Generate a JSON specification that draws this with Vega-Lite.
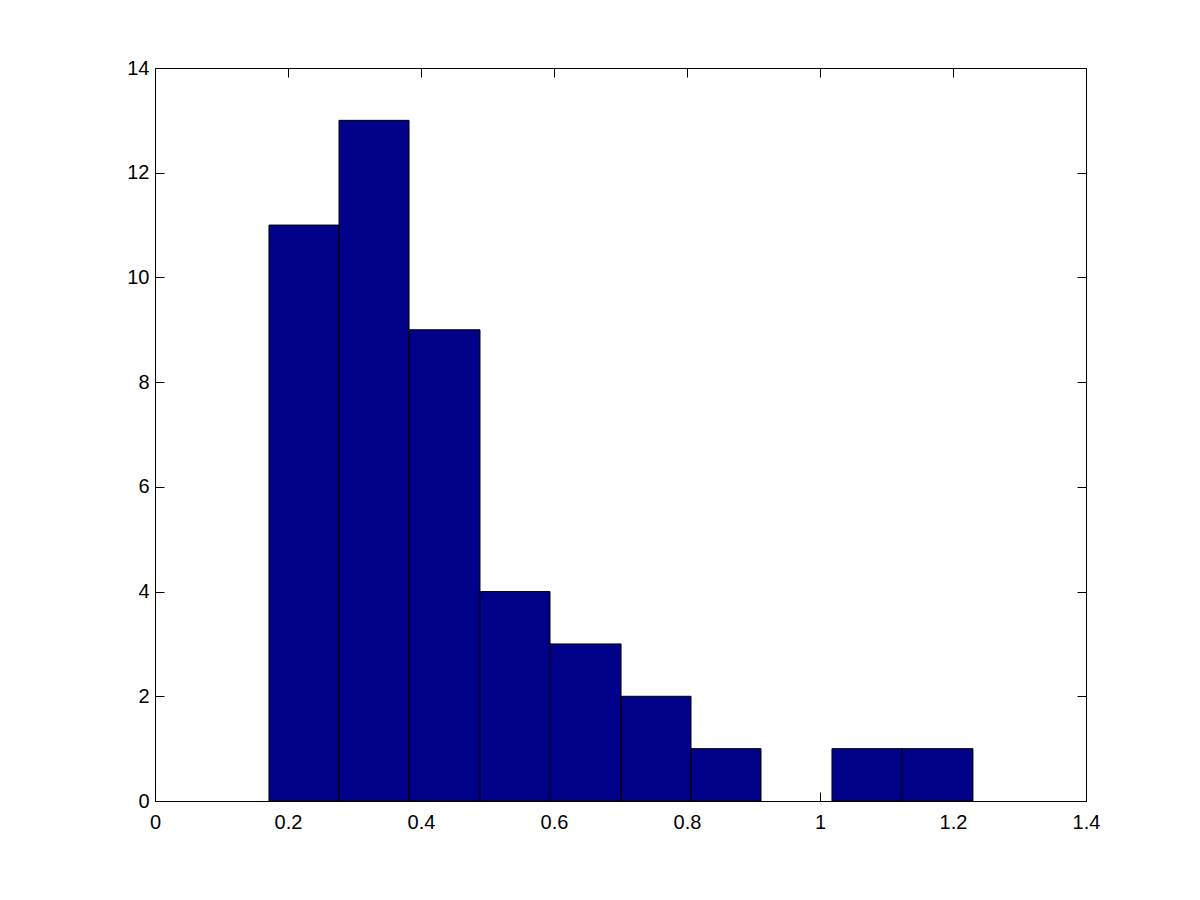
{
  "$schema": "https://vega.github.io/schema/vega-lite/v6.json",
  "width": 931,
  "height": 733,
  "autosize": {"type": "none"},
  "padding": {"left": 155, "top": 68, "right": 114, "bottom": 99},
  "background": "white",
  "config": {
    "view": {"stroke": "black", "strokeWidth": 1},
    "axis": {
      "grid": false,
      "domain": false,
      "tickColor": "black",
      "tickSize": -9,
      "tickWidth": 1,
      "labelFont": "Liberation Sans",
      "labelFontSize": 20,
      "labelColor": "black",
      "title": null
    }
  },
  "data": {
    "values": [
      {"start": 0.1714, "end": 0.2767, "count": 11},
      {"start": 0.2767, "end": 0.3820, "count": 13},
      {"start": 0.3820, "end": 0.4887, "count": 9},
      {"start": 0.4887, "end": 0.5940, "count": 4},
      {"start": 0.5940, "end": 0.7008, "count": 3},
      {"start": 0.7008, "end": 0.8060, "count": 2},
      {"start": 0.8060, "end": 0.9113, "count": 1},
      {"start": 0.9113, "end": 1.0180, "count": 0},
      {"start": 1.0180, "end": 1.1233, "count": 1},
      {"start": 1.1233, "end": 1.2300, "count": 1}
    ]
  },
  "layer": [
    {
      "transform": [{"filter": "datum.count > 0"}],
      "mark": {"type": "rect", "fill": "#000088", "stroke": "black", "strokeWidth": 1},
      "encoding": {
        "x": {"field": "start", "type": "quantitative", "scale": {"domain": [0, 1.4], "nice": false, "zero": false},
              "axis": {"orient": "bottom", "values": [0, 0.2, 0.4, 0.6, 0.8, 1, 1.2, 1.4], "format": "~g", "labelPadding": 20, "labelFlush": false, "labelOverlap": false}},
        "x2": {"field": "end"},
        "y": {"field": "count", "type": "quantitative", "scale": {"domain": [0, 14], "nice": false},
              "axis": {"orient": "left", "values": [0, 2, 4, 6, 8, 10, 12, 14], "labelPadding": 15, "labelFlush": false, "labelOverlap": false}},
        "y2": {"datum": 0}
      }
    },
    {
      "mark": {"type": "rect", "opacity": 0},
      "encoding": {
        "x": {"field": "start", "type": "quantitative", "scale": {"domain": [0, 1.4], "nice": false, "zero": false},
              "axis": {"orient": "top", "values": [0, 0.2, 0.4, 0.6, 0.8, 1, 1.2, 1.4], "labels": false}},
        "x2": {"field": "end"},
        "y": {"field": "count", "type": "quantitative", "scale": {"domain": [0, 14], "nice": false},
              "axis": {"orient": "right", "values": [0, 2, 4, 6, 8, 10, 12, 14], "labels": false}},
        "y2": {"datum": 0}
      }
    }
  ],
  "resolve": {"axis": {"x": "independent", "y": "independent"}}
}
